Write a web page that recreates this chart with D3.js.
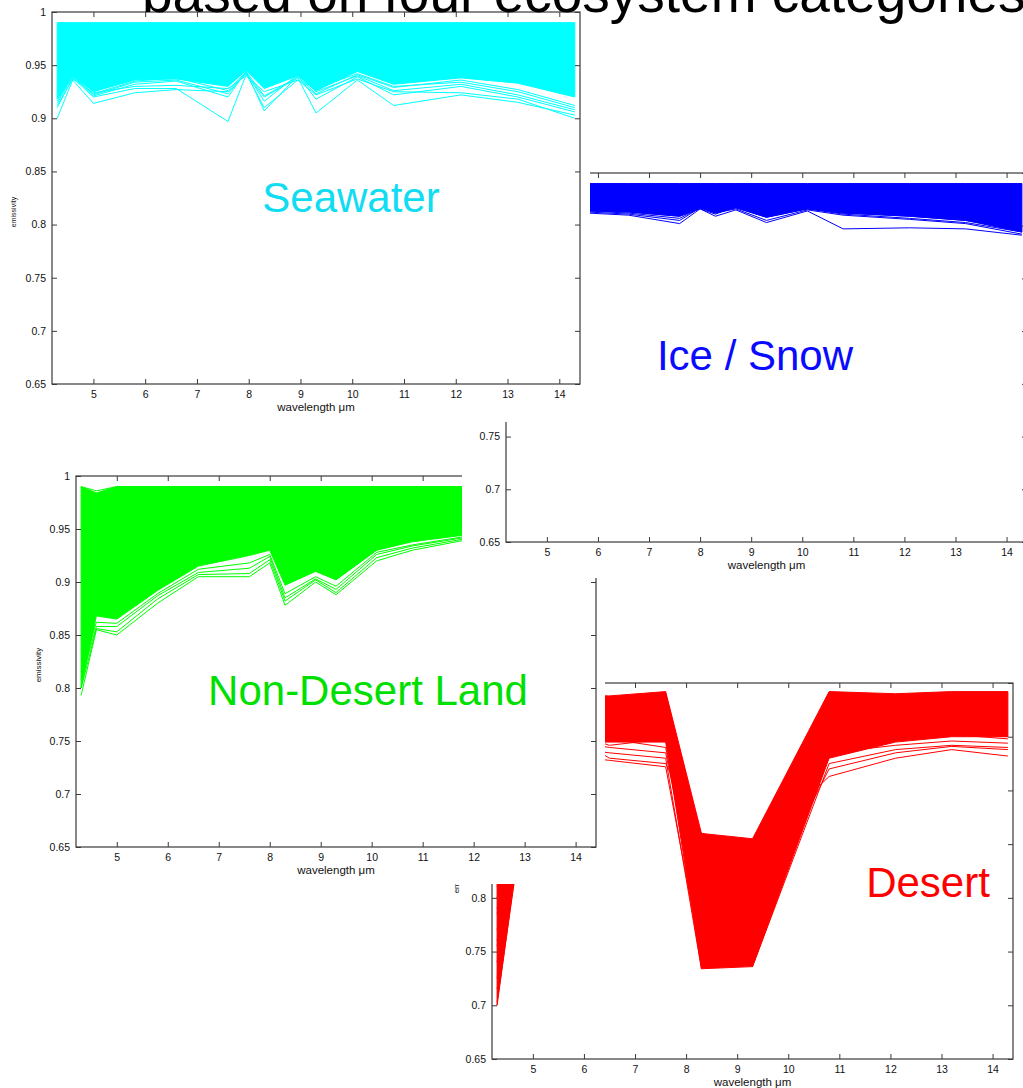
<!DOCTYPE html>
<html>
<head>
<meta charset="utf-8">
<script src="https://cdn.jsdelivr.net/npm/d3@7"></script>
<style>
  html, body { margin: 0; padding: 0; background: #fff; }
  svg { display: block; font-family: "Liberation Sans", Arial, Helvetica, sans-serif; }
</style>
</head>
<body>
<svg id="chart" width="1023" height="1088"></svg>
<script>
// ---------- shared axis definitions ----------
const X_DOMAIN = [4.2, 14.4];
const Y_DOMAIN = [0.65, 1];
const X_TICKS = [5, 6, 7, 8, 9, 10, 11, 12, 13, 14];
const Y_TICKS = [0.65, 0.7, 0.75, 0.8, 0.85, 0.9, 0.95, 1];

// ---------- Seawater emissivity spectra ----------
const seaWavelengths = [4.3, 4.6, 5.0, 5.8, 6.6, 7.6, 7.95, 8.3, 8.95, 9.3, 10.1, 10.8, 12.1, 13.2, 14.3];
const seaUpper = [0.99, 0.99, 0.99, 0.99, 0.99, 0.99, 0.99, 0.99, 0.99, 0.99, 0.99, 0.99, 0.99, 0.99, 0.99];
const seaLower = [0.918, 0.940, 0.925, 0.936, 0.937, 0.930, 0.945, 0.928, 0.940, 0.926, 0.944, 0.932, 0.938, 0.933, 0.920];
const seaSpectra = [
  [0.900, 0.936, 0.914, 0.924, 0.927, 0.925, 0.942, 0.910, 0.936, 0.922, 0.937, 0.925, 0.924, 0.918, 0.900],
  [0.910, 0.938, 0.920, 0.928, 0.928, 0.897, 0.941, 0.920, 0.938, 0.905, 0.936, 0.912, 0.922, 0.915, 0.903],
  [0.914, 0.940, 0.921, 0.932, 0.935, 0.920, 0.944, 0.907, 0.940, 0.918, 0.939, 0.922, 0.930, 0.920, 0.906],
  [0.916, 0.941, 0.922, 0.934, 0.936, 0.923, 0.943, 0.916, 0.941, 0.925, 0.940, 0.926, 0.932, 0.922, 0.908],
  [0.912, 0.937, 0.924, 0.930, 0.931, 0.928, 0.940, 0.925, 0.936, 0.928, 0.942, 0.930, 0.934, 0.925, 0.910],
  [0.918, 0.939, 0.923, 0.935, 0.938, 0.926, 0.944, 0.921, 0.939, 0.923, 0.941, 0.929, 0.936, 0.927, 0.912]
];

// ---------- Ice / Snow emissivity spectra ----------
const iceWavelengths = [5.8, 6.6, 7.6, 8.0, 8.3, 8.7, 9.3, 10.1, 10.8, 12.1, 13.2, 14.3];
const iceUpper = [0.99, 0.99, 0.99, 0.99, 0.99, 0.99, 0.99, 0.99, 0.99, 0.99, 0.99, 0.99];
const iceLower = [0.964, 0.963, 0.959, 0.967, 0.962, 0.967, 0.958, 0.966, 0.962, 0.959, 0.955, 0.944];
const iceSpectra = [
  [0.962, 0.960, 0.952, 0.966, 0.959, 0.965, 0.953, 0.964, 0.947, 0.948, 0.947, 0.941],
  [0.963, 0.961, 0.955, 0.967, 0.962, 0.966, 0.955, 0.965, 0.960, 0.956, 0.952, 0.942],
  [0.964, 0.962, 0.957, 0.967, 0.963, 0.967, 0.958, 0.966, 0.961, 0.957, 0.953, 0.944],
  [0.965, 0.963, 0.959, 0.966, 0.961, 0.968, 0.960, 0.966, 0.962, 0.959, 0.955, 0.946]
];

// ---------- Non-desert land emissivity spectra ----------
const landWavelengths = [4.3, 4.6, 5.0, 5.8, 6.6, 7.6, 8.0, 8.3, 8.9, 9.3, 10.1, 10.8, 12.1];
const landUpper = [0.99, 0.984, 0.99, 0.99, 0.99, 0.99, 0.99, 0.99, 0.99, 0.99, 0.99, 0.99, 0.99];
const landLower = [0.800, 0.868, 0.865, 0.892, 0.915, 0.925, 0.930, 0.897, 0.910, 0.902, 0.930, 0.938, 0.946];
const landSpectra = [
  [0.793, 0.855, 0.850, 0.880, 0.905, 0.905, 0.918, 0.878, 0.900, 0.888, 0.920, 0.930, 0.942],
  [0.800, 0.856, 0.853, 0.884, 0.907, 0.908, 0.921, 0.882, 0.902, 0.890, 0.923, 0.932, 0.943],
  [0.808, 0.858, 0.858, 0.887, 0.909, 0.913, 0.924, 0.885, 0.903, 0.893, 0.926, 0.934, 0.944],
  [0.815, 0.862, 0.861, 0.889, 0.912, 0.918, 0.926, 0.889, 0.905, 0.896, 0.928, 0.935, 0.945],
  [0.990, 0.986, 0.990, 0.990, 0.990, 0.990, 0.990, 0.990, 0.990, 0.990, 0.990, 0.990, 0.990]
];

// ---------- Desert emissivity spectra ----------
const desertWavelengths = [4.3, 5.0, 6.5, 7.6, 8.3, 9.3, 10.8, 12.1, 13.2, 14.3];
const desertUpper = [0.85, 0.99, 0.988, 0.992, 0.86, 0.855, 0.992, 0.99, 0.992, 0.992];
const desertLower = [0.70, 0.945, 0.945, 0.945, 0.734, 0.736, 0.930, 0.945, 0.950, 0.950];
const desertSpectra = [
  [0.703, 0.936, 0.928, 0.922, 0.745, 0.765, 0.935, 0.942, 0.946, 0.944],
  [0.715, 0.944, 0.935, 0.930, 0.734, 0.800, 0.950, 0.952, 0.955, 0.950],
  [0.740, 0.952, 0.940, 0.935, 0.775, 0.736, 0.925, 0.938, 0.942, 0.940],
  [0.770, 0.962, 0.955, 0.960, 0.820, 0.790, 0.960, 0.962, 0.965, 0.962],
  [0.800, 0.972, 0.930, 0.925, 0.860, 0.845, 0.913, 0.930, 0.938, 0.932],
  [0.830, 0.982, 0.975, 0.990, 0.857, 0.850, 0.990, 0.985, 0.990, 0.990],
  [0.760, 0.958, 0.965, 0.972, 0.750, 0.825, 0.975, 0.972, 0.976, 0.972],
  [0.790, 0.970, 0.960, 0.980, 0.800, 0.745, 0.965, 0.975, 0.980, 0.978],
  [0.810, 0.976, 0.948, 0.940, 0.770, 0.780, 0.920, 0.935, 0.941, 0.938],
  [0.725, 0.948, 0.978, 0.985, 0.840, 0.810, 0.985, 0.980, 0.985, 0.982],
  [0.755, 0.955, 0.952, 0.955, 0.790, 0.760, 0.945, 0.955, 0.960, 0.958],
  [0.785, 0.965, 0.942, 0.948, 0.810, 0.830, 0.940, 0.948, 0.952, 0.948]
];

// ---------- texts ----------
const titleText = "based on four ecosystem categories";
const xLabel = "wavelength \u03bcm";
const yLabel = "emissivity";

// ---------- layout of the four overlapping figures (drawn bottom to top) ----------
const panels = [
  { name: "Desert", color: "#ff0000", labelColor: "#ff0000",
    wl: desertWavelengths, upper: desertUpper, lower: desertLower, spectra: desertSpectra,
    bg: [440, 640, 583, 448], left: 492, top: 683, width: 521, height: 376,
    ylab: [456, 876, 8], label: [928, 897] },
  { name: "Non-Desert Land", color: "#00ff00", labelColor: "#00e000",
    wl: landWavelengths, upper: landUpper, lower: landLower, spectra: landSpectra,
    bg: [0, 452, 605, 432], left: 76, top: 476, width: 520, height: 371,
    ylab: [38, 665, 8], label: [368, 705] },
  { name: "Ice / Snow", color: "#0000ff", labelColor: "#0a0aff",
    wl: iceWavelengths, upper: iceUpper, lower: iceLower, spectra: iceSpectra,
    bg: [462, 120, 561, 458], left: 506, top: 173, width: 521, height: 369,
    ylab: [467, 360, 8], label: [755, 370] },
  { name: "Seawater", color: "#00ffff", labelColor: "#10dcf2",
    wl: seaWavelengths, upper: seaUpper, lower: seaLower, spectra: seaSpectra,
    bg: [0, 0, 590, 422], left: 52, top: 12, width: 528, height: 372,
    ylab: [14, 212, 7], label: [351, 212] }
];

const svg = d3.select("#chart");
const axisColor = "#3a3a3a";

function drawPanel(p) {
  const g = svg.append("g").attr("class", "figure");
  const x = d3.scaleLinear().domain(X_DOMAIN).range([p.left, p.left + p.width]);
  const y = d3.scaleLinear().domain(Y_DOMAIN).range([p.top + p.height, p.top]);
  const bottom = p.top + p.height, right = p.left + p.width;

  // white figure background hides whatever lies beneath
  g.append("rect")
    .attr("x", p.bg[0]).attr("y", p.bg[1])
    .attr("width", p.bg[2]).attr("height", p.bg[3])
    .attr("fill", "#fff");

  // dense bundle of spectra: filled between upper and lower bounds
  const band = p.wl.map((w, i) => ({ w: w, hi: p.upper[i], lo: p.lower[i] }));
  g.append("path")
    .datum(band)
    .attr("d", d3.area().x(d => x(d.w)).y0(d => y(d.lo)).y1(d => y(d.hi)))
    .attr("fill", p.color)
    .attr("stroke", p.color)
    .attr("stroke-width", 1);

  // individual spectra along the edges of the bundle
  const line = d3.line().x(d => x(d[0])).y(d => y(d[1]));
  g.selectAll("path.spectrum")
    .data(p.spectra)
    .enter().append("path")
    .attr("class", "spectrum")
    .attr("d", vals => line(p.wl.map((w, i) => [w, vals[i]])))
    .attr("fill", "none")
    .attr("stroke", p.color)
    .attr("stroke-width", 1);

  // axes with inward ticks on all four sides
  const fmtY = d => String(+d.toFixed(2));
  const styleAxis = sel => {
    sel.select(".domain").remove();
    sel.selectAll(".tick line").attr("stroke", axisColor).attr("stroke-width", 1);
    sel.selectAll(".tick text").attr("fill", "#111").attr("font-size", 10.5)
      .attr("font-family", "\"Liberation Sans\", Arial, sans-serif");
  };
  g.append("g").attr("transform", `translate(0,${bottom})`)
    .call(d3.axisBottom(x).tickValues(X_TICKS).tickSize(-5).tickPadding(7).tickFormat(d3.format("d")))
    .call(styleAxis);
  g.append("g").attr("transform", `translate(0,${p.top})`)
    .call(d3.axisTop(x).tickValues(X_TICKS).tickSize(-5).tickFormat(""))
    .call(styleAxis);
  g.append("g").attr("transform", `translate(${p.left},0)`)
    .call(d3.axisLeft(y).tickValues(Y_TICKS).tickSize(-5).tickPadding(6).tickFormat(fmtY))
    .call(styleAxis);
  g.append("g").attr("transform", `translate(${right},0)`)
    .call(d3.axisRight(y).tickValues(Y_TICKS).tickSize(-5).tickFormat(""))
    .call(styleAxis);

  // axes box
  g.append("rect")
    .attr("x", p.left).attr("y", p.top)
    .attr("width", p.width).attr("height", p.height)
    .attr("fill", "none").attr("stroke", axisColor).attr("stroke-width", 1.2);

  // axis titles
  g.append("text")
    .attr("x", p.left + p.width / 2).attr("y", bottom + 27)
    .attr("text-anchor", "middle").attr("font-size", 11.5).attr("fill", "#111")
    .text(xLabel);
  g.append("text")
    .attr("transform", `translate(${p.ylab[0]},${p.ylab[1]}) rotate(-90)`)
    .attr("text-anchor", "middle").attr("dy", "0.35em")
    .attr("font-size", p.ylab[2]).attr("fill", "#111")
    .text(yLabel);

  // category name
  g.append("text")
    .attr("x", p.label[0]).attr("y", p.label[1])
    .attr("text-anchor", "middle").attr("font-size", 42)
    .attr("fill", p.labelColor)
    .text(p.name);

  return g;
}

const groups = panels.map(drawPanel);

// texts that end up entirely under a figure stacked above are not kept
groups.forEach((g, i) => {
  const covers = panels.slice(i + 1).map(p => p.bg);
  g.selectAll("text").each(function () {
    const b = this.getBoundingClientRect();
    const hidden = covers.some(r => b.left >= r[0] && b.right <= r[0] + r[2] &&
                                    b.top >= r[1] && b.bottom <= r[1] + r[3]);
    if (hidden) d3.select(this).remove();
  });
});

// slide heading, partly above the top edge
svg.append("text")
  .attr("x", 142).attr("y", 12)
  .attr("font-size", 55).attr("fill", "#000")
  .text(titleText);
</script>
</body>
</html>
